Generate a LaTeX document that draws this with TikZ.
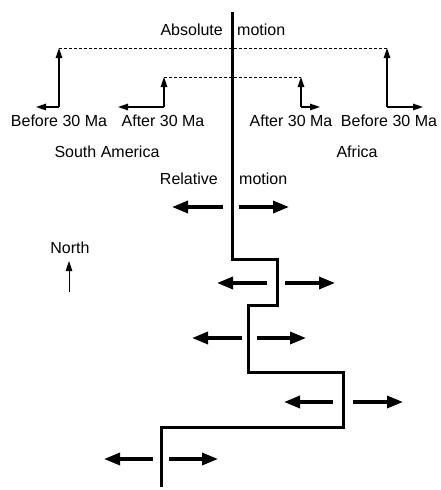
\documentclass[tikz,border=0pt]{standalone}
\usepackage{fontspec}
\setmainfont{Liberation Sans}
\usetikzlibrary{arrows.meta}

\begin{document}
\begin{tikzpicture}[x=1pt, y=-1pt,
    lbl/.style={font=\fontsize{16}{19}\selectfont, inner sep=0pt},
    smallarr/.style={line width=1.3pt, -{Triangle[length=10pt,width=6.5pt]}},
    bigarr/.style={line width=3.4pt, -{Triangle[length=16pt,width=12pt]}},
    dashln/.style={line width=0.7pt, dash pattern=on 3pt off 2pt}]

%\draw[help lines,step=10pt] (0,0) grid (440,490);
\useasboundingbox (0,0) rectangle (440,490);

% plate boundary
\draw[line width=3pt] (232,12) -- (232,259) -- (277,259) -- (277,305) -- (248,305)
                      -- (248,372) -- (343,372) -- (343,427) -- (161,427) -- (161,487);

\node[lbl, anchor=base east] (abs) at (223,35) {Absolute};
\node[lbl, anchor=base west] (absmot) at (237,35) {motion};

% absolute motion
\coordinate (saB) at (59,107);   \coordinate (saBtop) at (59,48);
\coordinate (saA) at (164,107);  \coordinate (saAtop) at (164,77);
\coordinate (afA) at (301,107);  \coordinate (afAtop) at (301,77);
\coordinate (afB) at (387,107);  \coordinate (afBtop) at (387,48);

\draw[dashln] (saBtop) -- (afBtop);
\draw[dashln] (saAtop) -- (afAtop);

\draw[smallarr] (saB) -- (saBtop);
\draw[smallarr] (saB) -- (36,107);
\draw[smallarr] (saA) -- (saAtop);
\draw[smallarr] (saA) -- (118,107);
\draw[smallarr] (afA) -- (afAtop);
\draw[smallarr] (afA) -- (320,107);
\draw[smallarr] (afB) -- (afBtop);
\draw[smallarr] (afB) -- (423,107);

\node[lbl, anchor=base] (saBlbl) at (59,126) {Before 30 Ma};
\node[lbl, anchor=base] (saAlbl) at (163,126) {After 30 Ma};
\node[lbl, anchor=base] (afAlbl) at (291,126) {After 30 Ma};
\node[lbl, anchor=base] (afBlbl) at (389,126) {Before 30 Ma};

\node[lbl, anchor=base] (sam) at (107,157) {South America};
\node[lbl, anchor=base] (afr) at (357,157) {Africa};

% relative motion
\node[lbl, anchor=base east] (rel) at (218,184) {Relative};
\node[lbl, anchor=base west] (relmot) at (239,184) {motion};

\draw[bigarr] (223,207) -- (172,207);
\draw[bigarr] (239,207) -- (289,207);
\draw[bigarr] (267,283) -- (217,283);
\draw[bigarr] (285,283) -- (335,283);
\draw[bigarr] (242,338) -- (192,338);
\draw[bigarr] (257,338) -- (306,338);
\draw[bigarr] (333,402) -- (284,402);
\draw[bigarr] (353,402) -- (403,402);
\draw[bigarr] (153,459) -- (104,459);
\draw[bigarr] (169,459) -- (218,459);

% north
\node[lbl, anchor=base] (north) at (70,253) {North};
\draw[smallarr, line width=0.9pt] (69,292) -- (69,261);

\end{tikzpicture}
\end{document}
